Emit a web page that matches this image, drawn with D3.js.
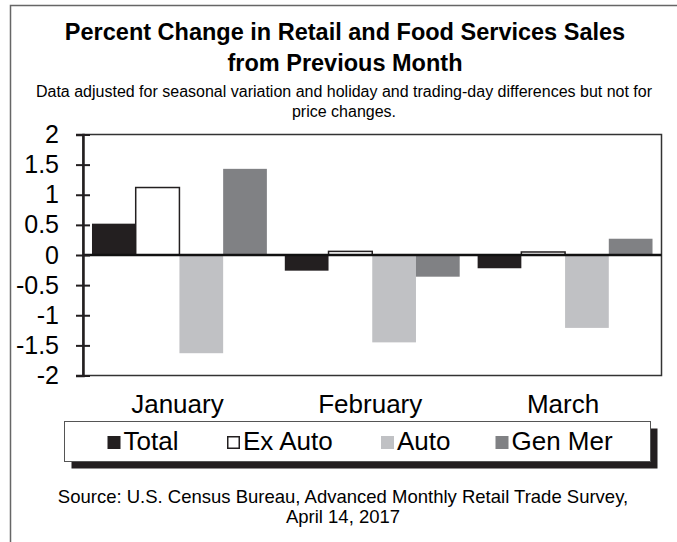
<!DOCTYPE html>
<html>
<head>
<meta charset="utf-8">
<script src="https://cdn.jsdelivr.net/npm/d3@7"></script>
<style>
  body { margin: 0; background: #fff; }
  svg { display: block; font-family: 'Liberation Sans', Arial, sans-serif; }
</style>
</head>
<body>
<div id="chart"></div>
<script>
// data
const months = ['January', 'February', 'March'];
const seriesNames = ['Total', 'Ex Auto', 'Auto', 'Gen Mer'];
const total = [0.52, -0.26, -0.22];
const exAuto = [1.12, 0.06, 0.05];
const auto = [-1.63, -1.45, -1.21];
const genMer = [1.43, -0.36, 0.27];
const yTicks = [2, 1.5, 1, 0.5, 0, -0.5, -1, -1.5, -2];

const colors = {
  'Total': '#231f20',
  'Ex Auto': '#ffffff',
  'Auto': '#c0c1c4',
  'Gen Mer': '#808184'
};

const values = {'Total': total, 'Ex Auto': exAuto, 'Auto': auto, 'Gen Mer': genMer};
const data = months.map((m, i) => ({
  month: m,
  bars: seriesNames.map(s => ({key: s, value: values[s][i]}))
}));

const width = 677, height = 542;
const plot = {left: 83, right: 661.5, top: 134.5, bottom: 375.5};

const svg = d3.select('#chart').append('svg')
    .attr('width', width)
    .attr('height', height);

// outer frame (only left and top visible)
svg.append('path')
    .attr('d', `M10.5,${height}V5.5H${width}`)
    .attr('fill', 'none')
    .attr('stroke', '#666')
    .attr('stroke-width', 1.5);

// titles
const title = svg.append('g')
    .attr('text-anchor', 'middle')
    .attr('fill', '#000');

title.append('text')
    .attr('x', 345).attr('y', 40)
    .attr('font-size', 23.5).attr('font-weight', 'bold')
    .text('Percent Change in Retail and Food Services Sales');
title.append('text')
    .attr('x', 345).attr('y', 71)
    .attr('font-size', 23.5).attr('font-weight', 'bold')
    .text('from Previous Month');
title.append('text')
    .attr('x', 344).attr('y', 97)
    .attr('font-size', 16)
    .text('Data adjusted for seasonal variation and holiday and trading-day differences but not for');
title.append('text')
    .attr('x', 344).attr('y', 117)
    .attr('font-size', 16)
    .text('price changes.');

// scales
const x0 = d3.scaleBand()
    .domain(months)
    .range([plot.left, plot.right])
    .paddingInner(0.093)
    .paddingOuter(0.0466);

const x1 = d3.scaleBand()
    .domain(seriesNames)
    .range([0, x0.bandwidth()]);

const y = d3.scaleLinear()
    .domain([-2, 2])
    .range([plot.bottom, plot.top]);

// bars
const groups = svg.append('g')
  .selectAll('g')
  .data(data)
  .join('g')
    .attr('transform', d => `translate(${x0(d.month)},0)`);

groups.selectAll('rect')
  .data(d => d.bars)
  .join('rect')
    .attr('x', d => x1(d.key))
    .attr('y', d => y(Math.max(0, d.value)))
    .attr('width', x1.bandwidth())
    .attr('height', d => Math.abs(y(d.value) - y(0)))
    .attr('fill', d => colors[d.key])
    .attr('stroke', d => d.key === 'Ex Auto' ? '#231f20' : 'none')
    .attr('stroke-width', 1.5);

// plot frame
svg.append('rect')
    .attr('x', plot.left).attr('y', plot.top)
    .attr('width', plot.right - plot.left)
    .attr('height', plot.bottom - plot.top)
    .attr('fill', 'none')
    .attr('stroke', '#333')
    .attr('stroke-width', 1.5);

// zero line
svg.append('line')
    .attr('x1', plot.left).attr('x2', plot.right)
    .attr('y1', y(0)).attr('y2', y(0))
    .attr('stroke', '#111')
    .attr('stroke-width', 2.5);

// y axis
const yAxis = svg.append('g')
    .attr('transform', `translate(${plot.left},0)`)
    .call(d3.axisLeft(y).tickValues(yTicks).tickSize(7).tickPadding(17).tickFormat(d => String(d)))
    .call(g => g.select('.domain').attr('stroke', '#231f20').attr('stroke-width', 2.5));

yAxis.selectAll('.tick line')
    .attr('x2', 7)
    .attr('x1', -7)
    .attr('stroke', '#231f20')
    .attr('stroke-width', 2);

yAxis.selectAll('.tick text')
    .attr('font-family', "'Liberation Sans', Arial, sans-serif")
    .attr('font-size', 25)
    .attr('fill', '#000');

// month labels
svg.append('g')
  .selectAll('text')
  .data(months)
  .join('text')
    .attr('x', d => x0(d) + x0.bandwidth() / 2 - 2)
    .attr('y', 413)
    .attr('text-anchor', 'middle')
    .attr('font-size', 26)
    .text(d => d);

// legend
const legend = svg.append('g');
legend.append('rect')
    .attr('x', 71.5).attr('y', 428.5)
    .attr('width', 586).attr('height', 40)
    .attr('fill', '#231f20');
legend.append('rect')
    .attr('x', 64.5).attr('y', 421.5)
    .attr('width', 586).attr('height', 40)
    .attr('fill', '#fff')
    .attr('stroke', '#555')
    .attr('stroke-width', 1);

const legendX = [107.5, 227, 381, 495.5];
const items = legend.selectAll('.item')
  .data(seriesNames)
  .join('g')
    .attr('class', 'item')
    .attr('transform', (d, i) => `translate(${legendX[i]},436)`);

items.append('rect')
    .attr('x', d => d === 'Ex Auto' ? 0.75 : 0)
    .attr('y', d => d === 'Ex Auto' ? 0.75 : 0)
    .attr('width', d => d === 'Ex Auto' ? 11.5 : 13)
    .attr('height', d => d === 'Ex Auto' ? 11.5 : 13)
    .attr('fill', d => colors[d])
    .attr('stroke', d => d === 'Ex Auto' ? '#231f20' : 'none')
    .attr('stroke-width', 1.5);

items.append('text')
    .attr('x', 16)
    .attr('y', 13.5)
    .attr('font-size', 26)
    .text(d => d);

// source
const source = svg.append('g')
    .attr('text-anchor', 'middle')
    .attr('font-size', 18.5);
source.append('text')
    .attr('x', 343).attr('y', 503)
    .text('Source: U.S. Census Bureau, Advanced Monthly Retail Trade Survey,');
source.append('text')
    .attr('x', 343).attr('y', 523)
    .text('April 14, 2017');
</script>
</body>
</html>
